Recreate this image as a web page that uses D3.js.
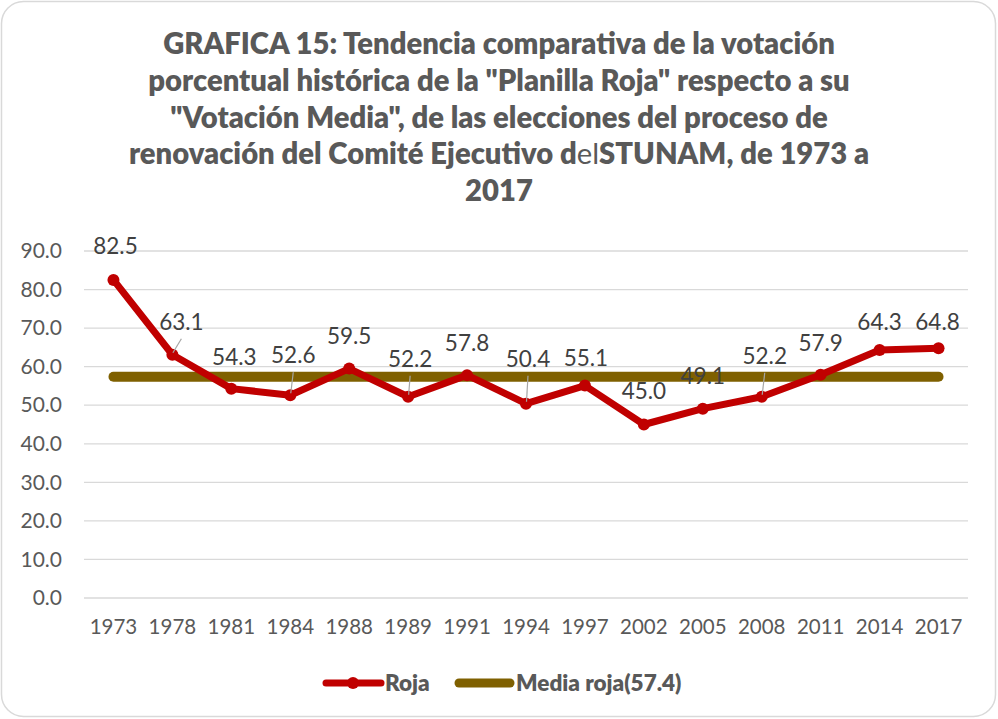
<!DOCTYPE html>
<html>
<head>
<meta charset="utf-8">
<script src="https://cdn.jsdelivr.net/npm/d3@7"></script>
<style>
  html, body { margin: 0; padding: 0; background: #fff; }
  svg { display: block; font-family: Lato, 'Open Sans', sans-serif; }
</style>
</head>
<body>
<div id="chart"></div>
<script>
const years = ['1973', '1978', '1981', '1984', '1988', '1989', '1991', '1994', '1997', '2002', '2005', '2008', '2011', '2014', '2017']
const rojaValues = [82.5, 63.1, 54.3, 52.6, 59.5, 52.2, 57.8, 50.4, 55.1, 45.0, 49.1, 52.2, 57.9, 64.3, 64.8]
const mediaRoja = 57.4
const yTicks = [0, 10, 20, 30, 40, 50, 60, 70, 80, 90]
const titleLines = [
  [['GRAFICA 15: Tendencia comparativa de la votación', true]],
  [['porcentual histórica de la "Planilla Roja" respecto a su', true]],
  [['"Votación Media", de las elecciones del proceso de', true]],
  [['renovación del Comité Ejecutivo d', true], ['el', false], ['STUNAM, de 1973 a', true]],
  [['2017', true]]
]
const legendLabels = ['Roja', 'Media roja(57.4)']

// label nudges (px) relative to each point, and which ones get a leader line
const labelNudge = [[2, -34], [9, -33], [3, -32], [3, -40], [0, -32], [2, -38], [0, -32], [2, -45],
  [1, -27], [0, -33], [0, -33], [3, -41], [0, -32], [0, -28], [-1, -26]]
const hasLeader = [false, true, false, true, false, true, false, true, false, false, false, true, false, false, false]

const width = 998
const height = 719
const plot = { left: 84, right: 968, top: 251, bottom: 598 }
const red = '#c00000'
const olive = '#7f6000'
const grey = '#595959'

const svg = d3.select('#chart').append('svg').attr('width', width).attr('height', height)

svg.append('rect')
  .attr('x', 1.5).attr('y', 1.5)
  .attr('width', width - 4).attr('height', height - 4)
  .attr('rx', 22)
  .attr('fill', '#fff')
  .attr('stroke', '#d9d9d9')
  .attr('stroke-width', 1.5)

// title
const title = svg.append('text')
  .attr('text-anchor', 'middle')
  .attr('fill', grey)
  .attr('font-size', 26)

titleLines.forEach((parts, i) => {
  const line = title.append('tspan').attr('x', 499).attr('y', 54 + i * 36.8)
  parts.forEach(([txt, bold]) => {
    line.append('tspan').attr('font-weight', bold ? 800 : 400).text(txt)
  })
})

// fit title to the reference width of its first line
const firstW = title.select('tspan').node().getComputedTextLength()
title.attr('font-size', 26 * 672 / firstW)

const x = d3.scaleBand().domain(years).range([plot.left, plot.right])
const y = d3.scaleLinear().domain([0, 90]).range([plot.bottom, plot.top])
const cx = d => x(d) + x.bandwidth() / 2

// grid
svg.append('g')
  .selectAll('line')
  .data(yTicks)
  .enter()
  .append('line')
  .attr('x1', plot.left).attr('x2', plot.right)
  .attr('y1', d => y(d)).attr('y2', d => y(d))
  .attr('stroke', '#d9d9d9')
  .attr('stroke-width', 1.3)

const yAxis = svg.append('g')
  .attr('transform', `translate(${plot.left - 22},0)`)
  .call(d3.axisLeft(y).tickValues(yTicks).tickFormat(d3.format('.1f')).tickSize(0).tickPadding(0))
yAxis.select('.domain').remove()
yAxis.selectAll('text').attr('font-size', 21).attr('fill', grey).attr('font-family', 'Lato, sans-serif')

const xAxis = svg.append('g')
  .attr('transform', `translate(0,${plot.bottom + 21})`)
  .call(d3.axisBottom(x).tickSize(0).tickPadding(0))
xAxis.select('.domain').remove()
xAxis.selectAll('text').attr('font-size', 20.5).attr('fill', grey).attr('font-family', 'Lato, sans-serif')

// mean line
svg.append('line')
  .attr('x1', cx(years[0])).attr('x2', cx(years[years.length - 1]))
  .attr('y1', y(mediaRoja)).attr('y2', y(mediaRoja))
  .attr('stroke', olive)
  .attr('stroke-width', 10)
  .attr('stroke-linecap', 'round')

const points = years.map((yr, i) => ({ yr, v: rojaValues[i], i }))

svg.append('path')
  .datum(points)
  .attr('d', d3.line().x(d => cx(d.yr)).y(d => y(d.v)))
  .attr('fill', 'none')
  .attr('stroke', red)
  .attr('stroke-width', 7)
  .attr('stroke-linejoin', 'round')

svg.append('g')
  .selectAll('circle')
  .data(points)
  .enter()
  .append('circle')
  .attr('cx', d => cx(d.yr))
  .attr('cy', d => y(d.v))
  .attr('r', 6)
  .attr('fill', red)

// leader lines
svg.append('g')
  .selectAll('line')
  .data(points.filter(d => hasLeader[d.i]))
  .enter()
  .append('line')
  .attr('x1', d => cx(d.yr) + 0.5)
  .attr('y1', d => y(d.v) - 2)
  .attr('x2', d => cx(d.yr) + labelNudge[d.i][0])
  .attr('y2', d => y(d.v) + labelNudge[d.i][1] + 17)
  .attr('stroke', '#a6a6a6')
  .attr('stroke-width', 1.2)

svg.append('g')
  .selectAll('text')
  .data(points)
  .enter()
  .append('text')
  .attr('x', d => cx(d.yr) + labelNudge[d.i][0])
  .attr('y', d => y(d.v) + labelNudge[d.i][1])
  .attr('dy', '0.35em')
  .attr('text-anchor', 'middle')
  .attr('font-size', 22.5)
  .attr('fill', '#404040')
  .text(d => d3.format('.1f')(d.v))

// legend
const legend = svg.append('g').attr('font-weight', 800).attr('font-size', 22.5).attr('fill', grey)
legend.append('line')
  .attr('x1', 326).attr('x2', 381).attr('y1', 683).attr('y2', 683)
  .attr('stroke', red).attr('stroke-width', 7).attr('stroke-linecap', 'round')
legend.append('circle').attr('cx', 353).attr('cy', 683).attr('r', 6).attr('fill', red)
legend.append('text').attr('x', 385).attr('y', 683).attr('dy', '0.35em').text(legendLabels[0])
legend.append('line')
  .attr('x1', 459).attr('x2', 510).attr('y1', 683).attr('y2', 683)
  .attr('stroke', olive).attr('stroke-width', 9).attr('stroke-linecap', 'round')
legend.append('text').attr('x', 516).attr('y', 683).attr('dy', '0.35em').text(legendLabels[1])
</script>
</body>
</html>
